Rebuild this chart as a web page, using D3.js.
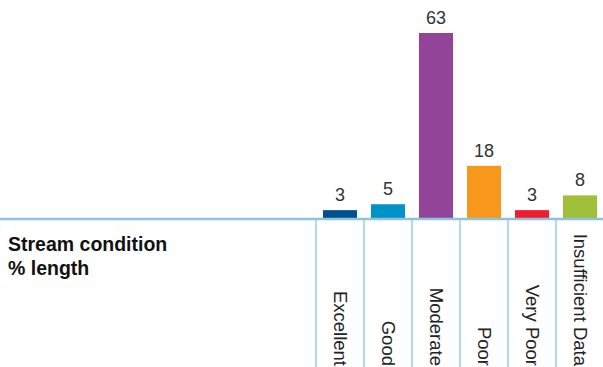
<!DOCTYPE html>
<html>
<head>
    <meta charset="utf-8">
    <title>Stream condition</title>
    <script src="https://cdn.jsdelivr.net/npm/d3@7/dist/d3.min.js"></script>
    <style>
        body { margin: 0; background: #fff; }
        text { font-family: "Liberation Sans", Arial, Helvetica, sans-serif; }
    </style>
</head>
<body>
<script type="text/javascript">
    var categories = ["Excellent", "Good", "Moderate", "Poor", "Very Poor", "Insufficient Data"];
    var values = [3, 5, 63, 18, 3, 8];
    var colors = ["#00508f", "#0092c8", "#924498", "#f7981d", "#ee1c2e", "#a1c03a"];

    var width = 603,
        height = 367,
        baseY = 219;

    var x = d3.scaleBand()
        .domain(categories)
        .range([316, 604])
        .paddingInner(0.29)
        .paddingOuter(0.145);

    var y = d3.scaleLinear()
        .domain([0, 63])
        .range([baseY, 33]);

    var svg = d3.select("body").append("svg")
        .attr("width", width)
        .attr("height", height);

    var gap = (x.step() - x.bandwidth()) / 2;

    // dividers under the bars
    svg.selectAll("line.div")
        .data(categories)
        .enter().append("line")
        .attr("class", "div")
        .attr("x1", function(d) { return x(d) - gap; })
        .attr("x2", function(d) { return x(d) - gap; })
        .attr("y1", baseY)
        .attr("y2", height)
        .attr("stroke", "#9fcbe2")
        .attr("stroke-width", 1.5);

    svg.selectAll("rect")
        .data(values)
        .enter().append("rect")
        .attr("x", function(d, i) { return x(categories[i]); })
        .attr("y", function(d) { return y(d); })
        .attr("width", x.bandwidth())
        .attr("height", function(d) { return baseY - y(d); })
        .attr("fill", function(d, i) { return colors[i]; });

    svg.append("line")
        .attr("x1", 0).attr("x2", width)
        .attr("y1", baseY).attr("y2", baseY)
        .attr("stroke", "#8fc3dd")
        .attr("stroke-width", 2.5);

    svg.selectAll("text.val")
        .data(values)
        .enter().append("text")
        .attr("class", "val")
        .attr("x", function(d, i) { return x(categories[i]) + x.bandwidth() / 2; })
        .attr("y", function(d) { return y(d) - 9; })
        .attr("text-anchor", "middle")
        .attr("font-size", 18)
        .attr("fill", "#333")
        .text(function(d) { return d; });

    svg.selectAll("text.cat")
        .data(categories)
        .enter().append("text")
        .attr("class", "cat")
        .attr("transform", function(d) {
            return "translate(" + (x(d) + x.bandwidth() / 2) + "," + (height - 1) + ") rotate(90)";
        })
        .attr("dy", "0.35em")
        .attr("text-anchor", "end")
        .attr("font-size", 18.5)
        .attr("fill", "#222")
        .text(function(d) { return d; });

    var title = svg.append("text")
        .attr("x", 8)
        .attr("y", 251)
        .attr("font-size", 19.5)
        .attr("font-weight", "bold")
        .attr("fill", "#111");
    title.append("tspan").attr("x", 8).text("Stream condition");
    title.append("tspan").attr("x", 8).attr("dy", 24).text("% length");
</script>
</body>
</html>
